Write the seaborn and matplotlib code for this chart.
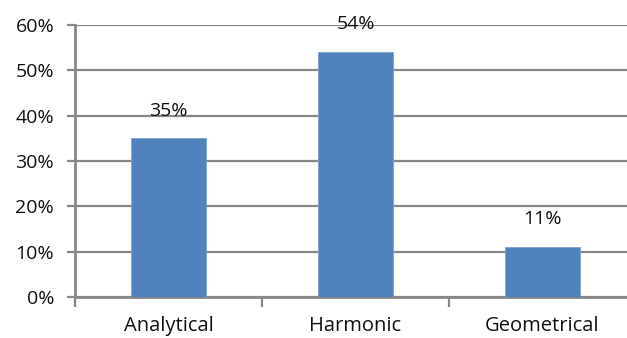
import matplotlib
matplotlib.use("Agg")
import matplotlib.pyplot as plt
import seaborn as sns
import pandas as pd
from matplotlib.ticker import FixedLocator

categories = ["Analytical", "Harmonic", "Geometrical"]
values = [35, 54, 11]
y_ticks = [0, 10, 20, 30, 40, 50, 60]
y_tick_labels = ["0%", "10%", "20%", "30%", "40%", "50%", "60%"]
bar_labels = ["35%", "54%", "11%"]

sns.set_theme(style="white")
plt.rcParams["font.family"] = ["Open Sans", "DejaVu Sans"]

df = pd.DataFrame({"cat": categories, "val": values})

fig = plt.figure(figsize=(6.27, 3.38), dpi=100)
W, H = 627, 338
ax = fig.add_axes([75 / W, (H - 297) / H, (636 - 75) / W, (297 - 25) / H])

sns.barplot(data=df, x="cat", y="val", color="#4F81BD", width=0.4,
            saturation=1, ax=ax, zorder=3, edgecolor="#7FA3CF", linewidth=0.6)

ax.set_ylim(0, 60)
ax.set_xlim(-0.5, 2.5)
ax.set_yticks(y_ticks)
ax.set_yticklabels(y_tick_labels, fontsize=14, color="#111111")
ax.yaxis.grid(True, color="#878787", linewidth=1.6, zorder=0)
ax.set_axisbelow(True)

ax.set_xticks(range(len(categories)))
ax.set_xticklabels(categories, fontsize=14.5, color="#111111")
ax.tick_params(axis="x", length=0, pad=14)
ax.xaxis.set_minor_locator(FixedLocator([-0.5, 0.5, 1.5, 2.5]))
ax.tick_params(axis="x", which="minor", length=7, width=1.6, color="#878787", direction="out", bottom=True)
ax.tick_params(axis="y", length=6, width=1.6, color="#878787", direction="out", left=True, pad=9)

for s in ["top", "right"]:
    ax.spines[s].set_visible(False)
for s in ["left", "bottom"]:
    ax.spines[s].set_color("#878787")
    ax.spines[s].set_linewidth(2)
ax.set_xlabel("")
ax.set_ylabel("")

for i, (v, lab) in enumerate(zip(values, bar_labels)):
    ax.annotate(lab, (i, v), xytext=(0, 20), textcoords="offset points",
                ha="center", va="center", fontsize=14, color="#111111", zorder=5)

fig.savefig("out.png", dpi=100)
